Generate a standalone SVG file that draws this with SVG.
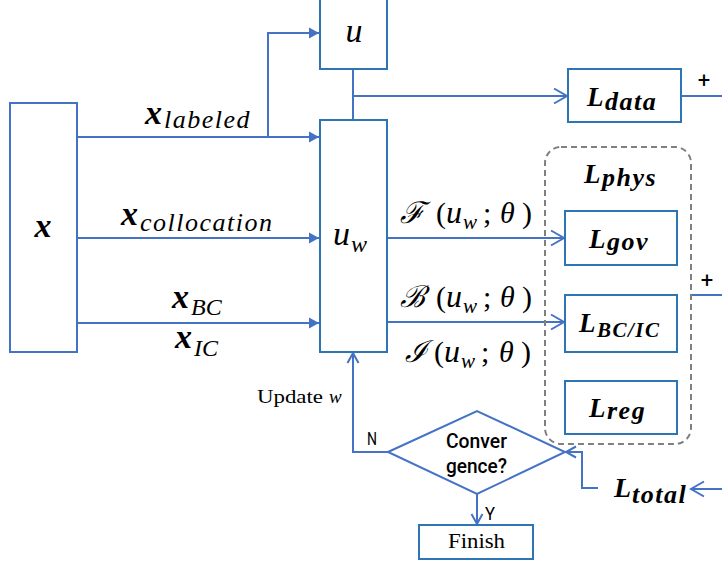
<svg xmlns="http://www.w3.org/2000/svg" width="722" height="567" viewBox="0 0 722 567">
<style>
.box{fill:#fff;stroke:#2E75B6;stroke-width:2}
.boxl{fill:#fff;stroke:#4472C4;stroke-width:2}
.ln{fill:none;stroke:#4472C4;stroke-width:2}
.m{font-family:"Liberation Serif","DejaVu Serif",serif;fill:#000}
.bi{font-weight:bold;font-style:italic}
.it{font-style:italic}
.sub{font-size:26px;letter-spacing:1.5px}
.L{font-size:27px}
.s{font-family:Roboto,"Liberation Sans",sans-serif;fill:#000}
</style>
<defs>
<marker id="af" markerUnits="userSpaceOnUse" markerWidth="11" markerHeight="12" refX="10" refY="6" orient="auto" overflow="visible">
<path d="M0,0.5 L10,6 L0,11.5 z" fill="#4472C4"/>
</marker>
<marker id="ao" markerUnits="userSpaceOnUse" markerWidth="14" markerHeight="16" refX="13" refY="7.5" orient="auto" overflow="visible">
<path d="M0,0 L13,7.5 L0,15" fill="none" stroke="#4472C4" stroke-width="2"/>
</marker>
<marker id="as" markerUnits="userSpaceOnUse" markerWidth="11" markerHeight="12" refX="10" refY="5.5" orient="auto" overflow="visible">
<path d="M0,0 L10,5.5 L0,11" fill="none" stroke="#4472C4" stroke-width="2"/>
</marker>
</defs>

<g id="connectors">
<line class="ln" x1="77" y1="137" x2="319" y2="137" marker-end="url(#af)"/>
<polyline class="ln" points="268,137 268,33 319,33" marker-end="url(#af)"/>
<line class="ln" x1="77" y1="238" x2="319" y2="238" marker-end="url(#af)"/>
<line class="ln" x1="77" y1="323" x2="319" y2="323" marker-end="url(#af)"/>
<line class="ln" x1="353" y1="69" x2="353" y2="120"/>
<line class="ln" x1="353" y1="96" x2="567" y2="96" marker-end="url(#ao)"/>
<line class="ln" x1="681" y1="96" x2="722" y2="96"/>
<line class="ln" x1="387" y1="238" x2="564" y2="238" marker-end="url(#ao)"/>
<line class="ln" x1="387" y1="322" x2="564" y2="322" marker-end="url(#ao)"/>
<line class="ln" x1="691" y1="295" x2="722" y2="295"/>
<polyline class="ln" points="388,452 353,452 353,353" marker-end="url(#as)"/>
<line class="ln" x1="477" y1="494" x2="477" y2="524" marker-end="url(#as)"/>
<line class="ln" x1="722" y1="489" x2="691" y2="489" marker-end="url(#ao)"/>
<polyline class="ln" points="598,488 582,488 582,452 566,452" marker-end="url(#as)"/>
</g>

<g id="node-x">
<rect class="boxl" x="10" y="103" width="67" height="249"/>
<text class="m bi" x="43" y="237" font-size="34" text-anchor="middle">x</text>
</g>

<g id="label-xlabeled">
<text class="m"><tspan class="bi" x="145" y="124" font-size="34">x</tspan><tspan class="it sub" x="164" y="128">labeled</tspan></text>
</g>
<g id="label-xcollocation">
<text class="m"><tspan class="bi" x="121" y="225" font-size="34">x</tspan><tspan class="it sub" x="140" y="231" letter-spacing="1.4">collocation</tspan></text>
</g>
<g id="label-xbc">
<text class="m"><tspan class="bi" x="172" y="308" font-size="34">x</tspan><tspan class="it" x="191" y="315" font-size="24">BC</tspan></text>
</g>
<g id="label-xic">
<text class="m"><tspan class="bi" x="175" y="348" font-size="34">x</tspan><tspan class="it" x="194" y="356" font-size="24">IC</tspan></text>
</g>

<g id="node-u">
<rect class="box" x="320" y="-1" width="67" height="70"/>
<text class="m it" x="354" y="42" font-size="34" text-anchor="middle">u</text>
</g>

<g id="node-uw">
<rect class="box" x="320" y="120" width="67" height="232"/>
<text class="m it"><tspan x="333" y="245" font-size="34">u</tspan><tspan x="351" y="252" font-size="24">w</tspan></text>
</g>

<g id="node-ldata">
<rect class="box" x="568" y="69" width="113" height="53"/>
<text class="m bi"><tspan class="L" x="587" y="106">L</tspan><tspan class="sub" x="605" y="110">data</tspan></text>
<text class="s" x="704" y="88" font-size="22" text-anchor="middle">+</text>
</g>

<g id="group-lphys">
<rect x="545" y="147" width="146" height="297" rx="16" fill="none" stroke="#808080" stroke-width="2" stroke-dasharray="6 4"/>
<text class="m bi"><tspan class="L" x="584" y="183">L</tspan><tspan class="sub" x="602" y="186">phys</tspan></text>
<text class="s" x="707" y="288" font-size="22" text-anchor="middle">+</text>
</g>

<g id="node-lgov">
<rect class="box" x="565" y="211" width="112" height="54"/>
<text class="m bi"><tspan class="L" x="589" y="248">L</tspan><tspan class="sub" x="607" y="250">gov</tspan></text>
</g>

<g id="node-lbcic">
<rect class="box" x="565" y="295" width="112" height="57"/>
<text class="m bi"><tspan class="L" x="579" y="332">L</tspan><tspan x="597" y="337" font-size="21" letter-spacing="1.5">BC/IC</tspan></text>
</g>

<g id="node-lreg">
<rect class="box" x="565" y="381" width="112" height="53"/>
<text class="m bi"><tspan class="L" x="589" y="417">L</tspan><tspan class="sub" x="607" y="419">reg</tspan></text>
</g>

<g id="label-F">
<text class="m" font-size="30"><tspan class="it" x="400" y="223">ℱ</tspan><tspan x="436" y="223">(</tspan><tspan class="it" x="446" y="223" font-size="32">u</tspan><tspan class="it" x="463" y="229" font-size="21">w</tspan><tspan x="483" y="223">;</tspan><tspan class="it" x="500" y="223">θ</tspan><tspan x="522" y="223">)</tspan></text>
</g>
<g id="label-B">
<text class="m" font-size="30"><tspan class="it" x="400" y="307">ℬ</tspan><tspan x="436" y="307">(</tspan><tspan class="it" x="446" y="307" font-size="32">u</tspan><tspan class="it" x="463" y="313" font-size="21">w</tspan><tspan x="483" y="307">;</tspan><tspan class="it" x="500" y="307">θ</tspan><tspan x="522" y="307">)</tspan></text>
</g>
<g id="label-I">
<text class="m" font-size="30"><tspan class="it" x="405" y="362">ℐ</tspan><tspan x="434" y="362">(</tspan><tspan class="it" x="444" y="362" font-size="32">u</tspan><tspan class="it" x="461" y="368" font-size="21">w</tspan><tspan x="481" y="362">;</tspan><tspan class="it" x="499" y="362">θ</tspan><tspan x="521" y="362">)</tspan></text>
</g>

<g id="label-update">
<text class="m" font-size="19"><tspan x="257" y="403" textLength="66" lengthAdjust="spacingAndGlyphs">Update</tspan><tspan class="it" x="329" y="403">w</tspan></text>
</g>

<g id="node-converge">
<polygon points="388,452 477,411 565,452 477,494" fill="#fff" stroke="#4472C4" stroke-width="2"/>
<text class="s" x="446" y="448" font-size="21" font-weight="500" textLength="61" lengthAdjust="spacingAndGlyphs">Conver</text>
<text class="s" x="446" y="473" font-size="21" font-weight="500" textLength="61" lengthAdjust="spacingAndGlyphs">gence?</text>
<text class="s" x="367" y="445" font-size="18" textLength="10" lengthAdjust="spacingAndGlyphs">N</text>
<text class="s" x="485" y="520" font-size="18" textLength="10" lengthAdjust="spacingAndGlyphs">Y</text>
</g>

<g id="node-finish">
<rect class="box" x="419" y="525" width="114" height="34"/>
<text class="m" x="448" y="548" font-size="20" textLength="57" lengthAdjust="spacingAndGlyphs">Finish</text>
</g>

<g id="node-ltotal">
<text class="m bi"><tspan x="614" y="497" font-size="28">L</tspan><tspan class="sub" x="632" y="503">total</tspan></text>
</g>
</svg>
